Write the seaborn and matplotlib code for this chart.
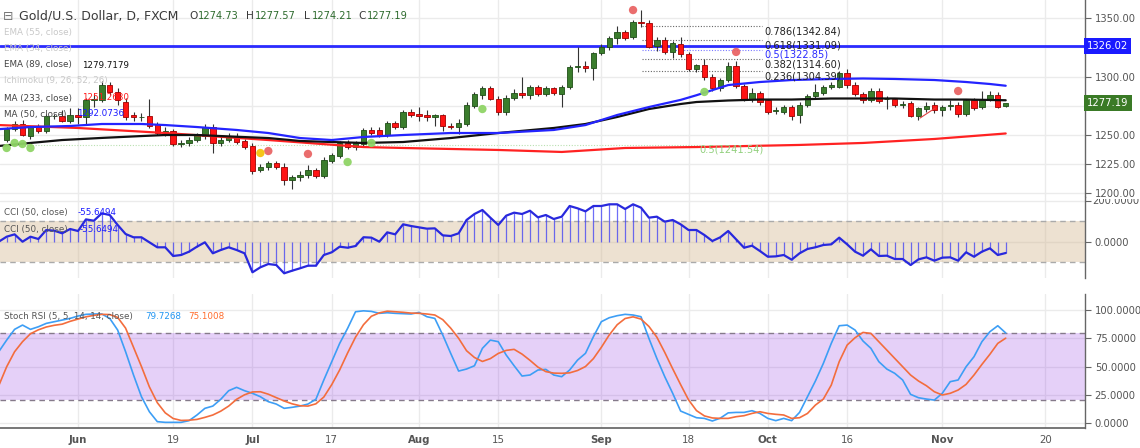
import numpy as np
import pandas as pd
import matplotlib
matplotlib.use("Agg")
import matplotlib.pyplot as plt
import matplotlib.transforms as mtransforms
import seaborn as sns

# ---------------- data (bar index 0 = 1 Jun, trading days) ----------------
first_bar = -9
opens = [1246, 1255, 1259, 1249, 1257, 1253, 1266, 1266, 1262, 1267,
         1265, 1280, 1280, 1293, 1287, 1278, 1267, 1265, 1266, 1259,
         1252, 1253, 1242.5, 1243, 1246, 1249, 1257, 1243, 1246, 1249,
         1245, 1241, 1220, 1223, 1226, 1223, 1211.5, 1214, 1216, 1220,
         1215, 1228, 1232, 1243, 1240, 1242, 1254, 1254, 1250, 1260,
         1257, 1270, 1268, 1267, 1265, 1267, 1258, 1257, 1259, 1275,
         1284, 1290, 1281, 1270, 1282, 1286, 1284, 1291, 1285, 1290,
         1285, 1291, 1308, 1309, 1307, 1320, 1325, 1333, 1338, 1334,
         1347, 1346, 1326, 1331, 1321, 1328, 1319, 1306, 1310, 1300,
         1290, 1297, 1309, 1292, 1281, 1286, 1280, 1270.5, 1270, 1274,
         1267, 1276, 1283, 1286, 1291, 1291, 1303, 1293, 1285, 1280,
         1288, 1280.5, 1281, 1276, 1277, 1266, 1272, 1276, 1271, 1275,
         1276, 1268, 1280, 1274, 1280, 1284, 1274.73]
highs = [1257, 1262, 1263, 1258, 1259, 1268, 1268, 1271, 1273, 1273,
         1282, 1285, 1296, 1295, 1290, 1282, 1270, 1269, 1281, 1261,
         1257, 1255, 1246, 1248, 1252, 1259, 1259, 1249, 1252, 1252,
         1247, 1243, 1225, 1228, 1228, 1226, 1216, 1219, 1224, 1222,
         1231, 1235, 1245, 1246, 1245, 1256, 1257, 1257, 1262, 1262,
         1271, 1272, 1274, 1271, 1268, 1268, 1260, 1264, 1278, 1287,
         1292, 1292, 1283, 1284, 1289, 1300, 1293, 1293, 1292, 1291,
         1293, 1310, 1325, 1313, 1321, 1328, 1335, 1343, 1340, 1348,
         1357, 1348, 1334, 1334, 1330, 1334, 1321, 1311, 1315, 1302,
         1299, 1312, 1313, 1294, 1290, 1288, 1281, 1274, 1276, 1276,
         1278, 1285, 1294, 1293, 1295, 1305, 1306, 1295, 1287, 1290,
         1290, 1283, 1282, 1279, 1279, 1274, 1278, 1278, 1276, 1280,
         1278, 1281, 1282, 1288, 1288, 1287, 1277.57]
lows = [1244, 1253, 1249, 1247, 1252, 1252, 1264, 1261, 1260, 1259,
        1259, 1274, 1278, 1284, 1276, 1263, 1262, 1262, 1256, 1250,
        1249, 1241, 1240, 1241, 1244, 1247, 1235, 1241, 1244, 1242,
        1238, 1217, 1218, 1220, 1221, 1207, 1204, 1211, 1213, 1213,
        1213, 1226, 1230, 1238, 1237, 1240, 1250, 1248, 1248, 1255,
        1255, 1265, 1262, 1262, 1258, 1253, 1255, 1251, 1258, 1273,
        1281, 1280, 1267, 1267, 1280, 1282, 1281, 1283, 1283, 1284,
        1274, 1289, 1304, 1304, 1297, 1318, 1323, 1328, 1331, 1332,
        1342, 1324, 1322, 1319, 1316, 1317, 1305, 1304, 1297, 1288,
        1288, 1295, 1290, 1279, 1278, 1276, 1268, 1268, 1268, 1263,
        1260, 1274, 1281, 1284, 1289, 1290, 1290, 1283, 1277, 1278,
        1277, 1272, 1274, 1273, 1265, 1263, 1270, 1269, 1266, 1271,
        1265, 1266, 1271, 1272, 1279, 1273, 1274.21]
closes = [1255, 1259, 1250, 1257, 1253, 1266, 1266.5, 1262, 1267, 1265,
          1280, 1280.5, 1293, 1287, 1280, 1265, 1265, 1265.5, 1258, 1252,
          1253, 1242, 1243.5, 1246, 1250, 1257, 1243, 1246, 1249, 1244,
          1240, 1219.5, 1223, 1226, 1223, 1211.5, 1214, 1216, 1220, 1215,
          1229, 1233, 1243, 1240, 1243, 1254, 1252, 1250, 1260, 1257,
          1270, 1267, 1266, 1265, 1267, 1258, 1257, 1260, 1275.5, 1285,
          1290, 1281, 1270, 1282, 1286, 1284, 1291, 1285, 1290, 1286,
          1291, 1308, 1308.5, 1307, 1320, 1325, 1333, 1338, 1333, 1347,
          1346, 1325, 1331, 1321, 1329, 1319, 1306, 1310, 1300, 1290,
          1297, 1309, 1292, 1281, 1286, 1278, 1270, 1271, 1274, 1266,
          1276, 1283, 1287, 1291, 1293, 1303, 1293, 1285, 1280, 1288,
          1279, 1281, 1276, 1276.5, 1266, 1273, 1275, 1271, 1274, 1275.5,
          1268, 1280, 1273, 1281, 1284, 1274, 1277.19]

# moving averages at selected bars
ma50_bars = [-10, -6, -1, 3, 8, 11, 15, 20, 24, 28, 32, 36, 41, 47, 53, 60,
             64, 68, 72, 76, 78, 82, 86, 90, 95, 99, 103, 108, 112, 115, 117]
ma50_vals = [1255, 1256.8, 1257.7, 1259.4, 1259.4, 1258.5, 1256.8, 1254.3,
             1251.7, 1247.4, 1245.7, 1248.3, 1250, 1251.7, 1251.7, 1254.3,
             1258.5, 1267.1, 1273.9, 1280, 1284, 1292.7, 1295.3, 1297.0,
             1297.9, 1298.3, 1297.9, 1297, 1295.3, 1293.6, 1292.1]
ema89_bars = [-10, -6, -2, 3, 8, 11, 15, 20, 24, 28, 32, 36, 41, 47, 53, 60,
              64, 68, 72, 76, 78, 82, 86, 90, 95, 99, 103, 108, 112, 117]
ema89_vals = [1240.6, 1243.2, 1245.7, 1247.5, 1249.1, 1250, 1250, 1248.5,
              1247.4, 1244.9, 1244, 1243.2, 1244, 1247.4, 1251.7, 1256,
              1259.4, 1265.4, 1272.2, 1276.5, 1278.2, 1279.5, 1280.3, 1280.3,
              1281.2, 1281.2, 1281.2, 1280.3, 1280.3, 1279.7]
ma233_bars = [-10, 0, 11, 24, 36, 41, 53, 61, 69, 78, 91, 99, 108, 117]
ma233_vals = [1258.5, 1256, 1251.7, 1245.7, 1239.7, 1238.9, 1237.2, 1235.5,
              1238.9, 1239.7, 1241.5, 1243.2, 1246.6, 1251.3]

hline_level = 1326.02
fib_labels = ['0.786(1342.84)', '0.618(1331.09)', '0.5(1322.85)',
              '0.382(1314.60)', '0.236(1304.39)']
fib_levels = [1342.84, 1331.09, 1322.85, 1314.60, 1304.39]
fib_bar_range = [71.1, 86.3]
low_fib_label = '0.5(1241.54)'
low_fib_level = 1241.54

red_dot_bars = [24, 29, 70, 83, 111]
red_dot_vals = [1236.3, 1233.8, 1356.8, 1321.0, 1287.6]
green_dot_bars = [-9, -8, -7, -6, 34, 37, 51, 79]
green_dot_vals = [1238.9, 1243.2, 1242.3, 1238.9, 1226.9, 1243.2, 1272.2, 1286.8]
yellow_dot_bars = [23]
yellow_dot_vals = [1234.6]

# CCI (bar -10 .. 117)
cci_first = -10
cci_vals = [0, 24.6, 36.3, 0, 24.6, 13.3, 57.6, 54.2, 41.4, 62.6,
            52.7, 110, 103.4, 139.9, 131.5, 82.3, 37.9, 21.7, 21.7, -3,
            -27.6, -27.6, -70.4, -65.5, -49.3, -24.6, -3, -57.1, -40.9, -27.6,
            -40.9, -57.1, -150.7, -126.1, -109.9, -114.8, -155.7, -142.9, -131, -118.2,
            -118.2, -65.5, -52.2, -24.6, -29.6, -21.2, 22, 20, 0, 46.1,
            36.3, 85.6, 77.3, 70.7, 64.2, 65.8, 31.3, 28.1, 41.2, 106.9,
            136.5, 156.2, 118.4, 82.3, 128.2, 143, 136.5, 152.7, 120, 131.5,
            111.8, 123.3, 175.9, 164.5, 149.6, 175.9, 175.9, 184.2, 184.2, 161.1,
            184.2, 167.8, 118.4, 123.3, 98.7, 106.9, 85.6, 57.6, 57.6, 32.9,
            3.4, 21.7, 52.7, 11.5, -29.6, -19.7, -45.8, -73.9, -72.3, -65.5,
            -88.5, -57.1, -35.8, -27.6, -16.3, -13, 19.9, -13, -49.1, -68.8,
            -37.6, -70.4, -68.8, -85.2, -85.2, -114.8, -86.9, -77, -93.4, -78.6,
            -77, -93.4, -52.2, -73.9, -49.1, -32.7, -65.5, -55.65]

# Stoch RSI K and D (bar -10 .. 117)
stoch_k = [63.1, 73.4, 82.9, 86.7, 82.9, 85.2, 88.2, 89.7, 91.1, 92.6,
           94.7, 96.2, 96.5, 96.5, 92.6, 82.3, 63.1, 42.5, 23.3, 10,
           1.2, 0.6, 0.6, 0.6, 2.1, 7.1, 13, 15, 21, 28.6,
           31.6, 28.6, 26.3, 23.3, 18.9, 16.8, 13, 13.9, 15, 16.8,
           21, 38.1, 54.3, 70.5, 83.8, 98.5, 99.3, 98.8, 97.1, 97.6,
           97.1, 96.8, 96.5, 97.9, 94.1, 92.6, 77.9, 61.7, 46, 47.8,
           50.7, 66.1, 73.4, 72, 60.2, 50.7, 41.6, 42.5, 46.9, 47.5,
           42.5, 41, 46.9, 55.7, 61.7, 76.4, 89.7, 93.2, 95, 96.2,
           95.6, 94.1, 74.9, 57.2, 41, 26.3, 10.6, 7.7, 4.7, 4.1,
           1.8, 4.3, 9, 9.4, 9.4, 10.9, 8.5, 4.1, 2.1, 4.1,
           2.1, 9.4, 23.3, 37.2, 52.8, 70.5, 86.1, 86.7, 82.3, 72.6,
           66.1, 54.3, 47.8, 44, 38.1, 25.4, 22.4, 21.2, 20.3, 26.3,
           36.6, 38.1, 49.8, 58.7, 72, 80.8, 86.1, 79.73]
stoch_d = [33, 49.8, 63.1, 72, 79, 82.5, 85, 86.5, 87.5, 90,
           92, 94, 95.3, 96.2, 96, 93.5, 84, 67, 50, 32,
           18, 9, 4, 2.3, 2.5, 3.2, 5, 7.1, 10.5, 15,
           21, 25, 27.5, 27.7, 25.5, 22.5, 19.5, 17, 15.3, 15,
           17, 23, 34, 47, 62, 76, 87, 94.5, 97.5, 99,
           98.5, 98, 97.3, 97.1, 96.5, 95.6, 91.5, 84, 75, 64,
           58, 54.5, 57, 61.6, 64.3, 65.2, 61, 55.5, 49.5, 45.5,
           44.2, 44, 44.4, 46.5, 50, 57, 67, 78, 87, 92.5,
           94, 92, 85.5, 76, 62.5, 48, 34, 20.5, 11, 6.3,
           4.5, 4.1, 4.1, 5.6, 6.5, 8.5, 10, 8.5, 7.7, 7.1,
           4.1, 4.7, 8.5, 15.9, 21.2, 33.6, 54.3, 69, 75.5, 80.2,
           79.3, 72, 64.6, 57.2, 49.8, 42.5, 37.2, 33, 27.7, 24.8,
           26.3, 29.2, 34.2, 42.5, 51.9, 60.8, 70.5, 75.1]

tick_positions = [0, 12, 22, 32, 43, 53, 66, 77, 87, 97, 109, 122]
tick_labels = ['Jun', '19', 'Jul', '17', 'Aug', '15', 'Sep', '18', 'Oct', '16', 'Nov', '20']
month_names = ['Jun', 'Jul', 'Aug', 'Sep', 'Oct', 'Nov']

price_ticks = [1200, 1225, 1250, 1275, 1300, 1325, 1350]
price_tick_labels = ['1200.00', '1225.00', '1250.00', '', '1300.00', '', '1350.00']
cci_ticks = [0, 200]
cci_tick_labels = ['0.0000', '200.0000']
stoch_ticks = [0, 25, 50, 75, 100]
stoch_tick_labels = ['0.0000', '25.0000', '50.0000', '75.0000', '100.0000']

# ---------------- figure ----------------
W, H = 1140, 448
sns.set_theme(style='white')
plt.rcParams['font.family'] = ['DejaVu Sans']

fig = plt.figure(figsize=(W / 100, H / 100), dpi=100)
RIGHT = 1085


def px_rect(top, bottom):
    return [0, 1 - bottom / H, RIGHT / W, (bottom - top) / H]


ax_p = fig.add_axes(px_rect(0, 197))
ax_c = fig.add_axes(px_rect(197, 278))
ax_s = fig.add_axes(px_rect(294, 428))

XLIM = (-9.84, 127.0)
grid_c = '#ebebeb'
axis_c = '#666666'
label_c = '#555555'

for ax in (ax_p, ax_c, ax_s):
    ax.set_xlim(*XLIM)
    ax.set_facecolor('white')
    ax.set_axisbelow(True)
    ax.set_xticks(tick_positions)
    ax.grid(True, color=grid_c, lw=1.0)
    for s in ('top', 'left', 'bottom'):
        ax.spines[s].set_visible(False)
    ax.spines['right'].set_color(axis_c)
    ax.spines['right'].set_linewidth(1.0)
    ax.yaxis.tick_right()
    ax.tick_params(axis='y', labelsize=7.2, colors=axis_c, labelcolor=label_c,
                   length=4, width=0.8, pad=3, right=True, left=False)
    ax.tick_params(axis='x', length=0, labelbottom=False)

# ---------------- price panel ----------------
bars = pd.DataFrame({
    'bar': np.arange(first_bar, first_bar + len(opens)),
    'open': opens, 'high': highs, 'low': lows, 'close': closes})
bars['up'] = bars['close'] >= bars['open']
bars['body_lo'] = bars[['open', 'close']].min(axis=1)
bars['body_h'] = (bars['close'] - bars['open']).abs().clip(lower=0.6)

ax_p.set_ylim(1197.0, 1365.4)
ax_p.set_yticks(price_ticks)
ax_p.set_yticklabels(price_tick_labels)

ax_p.axhline(hline_level, color='#2b2bff', lw=2.0, zorder=2)

# faint lower fib level
ax_p.hlines(low_fib_level, -10, 78.4, colors='#b9e0b0', lw=0.8,
            linestyles=(0, (1, 1.5)), zorder=1.5)
ax_p.text(78.4, low_fib_level, low_fib_label, color='#93d07f', fontsize=7.1,
          ha='left', va='top', zorder=6)

ax_p.vlines(bars['bar'], bars['low'], bars['high'], color='#333333', lw=0.8, zorder=3)
upb = bars[bars['up']]
dnb = bars[~bars['up']]
ax_p.bar(upb['bar'], upb['body_h'], bottom=upb['body_lo'], width=0.68,
         color='#3b7d2d', edgecolor='#1f4f17', linewidth=0.6, zorder=4)
ax_p.bar(dnb['bar'], dnb['body_h'], bottom=dnb['body_lo'], width=0.68,
         color='#ff1414', edgecolor='#a00000', linewidth=0.6, zorder=4)

sns.lineplot(x=ma233_bars, y=ma233_vals, ax=ax_p, color='#ff2222', lw=1.6,
             sort=False, estimator=None, zorder=5)
sns.lineplot(x=ema89_bars, y=ema89_vals, ax=ax_p, color='#111111', lw=1.6,
             sort=False, estimator=None, zorder=5)
sns.lineplot(x=ma50_bars, y=ma50_vals, ax=ax_p, color='#2424ff', lw=1.6,
             sort=False, estimator=None, zorder=5)

# fib retracement levels
for lab, lev in zip(fib_labels, fib_levels):
    is_half = lab.startswith('0.5(')
    ax_p.hlines(lev, fib_bar_range[0], fib_bar_range[1],
                colors='#7a7aff' if is_half else '#666666', lw=0.8,
                linestyles=(0, (1, 1.5)), zorder=2.5)
    ax_p.text(fib_bar_range[1] + 0.2, lev, lab,
              color='#2b2bff' if is_half else '#222222', fontsize=7.1,
              ha='left', va='top', zorder=6)

# little drawing stroke
ax_p.plot([106.2, 108.1], [1264.5, 1273.0], color='#e04040', lw=0.8, zorder=5)

ax_p.scatter(red_dot_bars, red_dot_vals, s=36, color='#e85d5d', alpha=0.9,
             edgecolors='none', zorder=7)
ax_p.scatter(green_dot_bars, green_dot_vals, s=36, color='#8fd466', alpha=0.95,
             edgecolors='none', zorder=7)
ax_p.scatter(yellow_dot_bars, yellow_dot_vals, s=36, color='#f5c518',
             edgecolors='none', zorder=7)

blend_p = mtransforms.blended_transform_factory(ax_p.transAxes, ax_p.transData)
ax_p.text(1.002, hline_level, '1326.02', transform=blend_p, color='white',
          fontsize=7.2, ha='left', va='center', clip_on=False, zorder=10,
          bbox=dict(boxstyle='square,pad=0.3', fc='#1a1aff', ec='none'))
ax_p.text(1.002, closes[-1], '1277.19', transform=blend_p, color='white',
          fontsize=7.2, ha='left', va='center', clip_on=False, zorder=10,
          bbox=dict(boxstyle='square,pad=0.3', fc='#3a7a26', ec='none'))

# ---------------- CCI panel ----------------
cci_bars = np.arange(cci_first, cci_first + len(cci_vals))
ax_c.set_ylim(-178.8, 220.2)
ax_c.set_yticks(cci_ticks)
ax_c.set_yticklabels([cci_tick_labels[0], ''])
ax_c.axhspan(-100, 100, color='#d2b48c', alpha=0.4, lw=0, zorder=0.8)
for lv in (100, -100):
    ax_c.axhline(lv, color='#aaaaaa', lw=1.0, ls=(0, (4, 3)), zorder=1)
ax_c.vlines(cci_bars, 0, cci_vals, color='#3d3df5', lw=0.9, alpha=0.75, zorder=2)
sns.lineplot(x=cci_bars, y=cci_vals, ax=ax_c, color='#2828dd', lw=1.6,
             sort=False, estimator=None, zorder=3)
# top CCI label is cut by the pane edge, as in the original
blend_c = mtransforms.blended_transform_factory(ax_c.transAxes, ax_c.transData)
t200 = ax_c.text((RIGHT + 7) / RIGHT, 200, cci_tick_labels[1], transform=blend_c,
                 fontsize=7.2, color=label_c, ha='left', va='center', zorder=1)
clip_bb = mtransforms.TransformedBbox(
    mtransforms.Bbox.from_extents(RIGHT / W, 1 - 278 / H, 1.0, 1 - 198.5 / H),
    fig.transFigure)
t200.set_clip_on(True)
t200.set_clip_box(clip_bb)

# ---------------- Stoch RSI panel ----------------
st_bars = np.arange(cci_first, cci_first + len(stoch_k))
ax_s.set_ylim(-4.4, 114.2)
ax_s.set_yticks(stoch_ticks)
ax_s.set_yticklabels(stoch_tick_labels)
ax_s.axhspan(20, 80, color='#8a2be2', alpha=0.22, lw=0, zorder=0.8)
for lv in (80, 20):
    ax_s.axhline(lv, color='#857a8a', lw=1.0, ls=(0, (4, 3)), zorder=1)
sns.lineplot(x=st_bars, y=stoch_k, ax=ax_s, color='#3d9ef5', lw=1.2,
             sort=False, estimator=None, zorder=3)
sns.lineplot(x=st_bars, y=stoch_d, ax=ax_s, color='#f36d3d', lw=1.2,
             sort=False, estimator=None, zorder=3)
ax_s.spines['bottom'].set_visible(True)
ax_s.spines['bottom'].set_color(axis_c)
ax_s.tick_params(axis='x', length=3, color=axis_c, labelbottom=True,
                 labelsize=7.4, labelcolor=label_c, pad=2)
ax_s.set_xticklabels(tick_labels)
for tl in ax_s.get_xticklabels():
    if tl.get_text() in month_names:
        tl.set_fontweight('bold')

for ax in (ax_p, ax_c, ax_s):
    ax.set_xlabel('')
    ax.set_ylabel('')


# ---------------- legend texts ----------------
def ftext(x, y, s, **kw):
    fig.text(x / W, 1 - y / H, s, ha='left', va='center', **kw)


ftext(3, 16, '\u229f', fontsize=9, color='#777777')
ftext(19, 16, 'Gold/U.S. Dollar, D, FXCM', fontsize=9, color='#3a3a3a')
ohlc = [('O', 189, '1274.73', 198), ('H', 246, '1277.57', 255),
        ('L', 304, '1274.21', 312), ('C', 358, '1277.19', 367)]
for letter, lx, val, vx in ohlc:
    ftext(lx, 16, letter, fontsize=7.6, color='#3a3a3a')
    ftext(vx, 16, val, fontsize=7.1, color='#2d6a2d')

leg_fs = 6.3
ftext(4, 33, 'EMA (55, close)', fontsize=leg_fs, color='#c8c8c8')
ftext(4, 49, 'EMA (34, close)', fontsize=leg_fs, color='#c8c8c8')
ftext(4, 65, 'EMA (89, close)', fontsize=leg_fs, color='#444444')
ftext(82, 65, '1279.7179', fontsize=leg_fs, color='#111111')
ftext(4, 81, 'Ichimoku (9, 26, 52, 26)', fontsize=leg_fs, color='#c8c8c8')
ftext(4, 98, 'MA (233, close)', fontsize=leg_fs, color='#444444')
ftext(82, 98, '1251.2680', fontsize=leg_fs, color='#ff1a1a')
ftext(4, 114, 'MA (50, close)', fontsize=leg_fs, color='#444444')
ftext(77, 114, '1292.0736', fontsize=leg_fs, color='#1a1aff')

ftext(4, 212, 'CCI (50, close)', fontsize=leg_fs, color='#555555')
ftext(78, 212, '-55.6494', fontsize=leg_fs, color='#1a1aff')
ftext(4, 229, 'CCI (50, close)', fontsize=leg_fs, color='#555555')
ftext(80, 229, '-55.6494', fontsize=leg_fs, color='#1a1aff')

ftext(4, 316, 'Stoch RSI (5, 5, 14, 14, close)', fontsize=leg_fs, color='#555555')
ftext(145, 316, '79.7268', fontsize=leg_fs, color='#2196f3')
ftext(188, 316, '75.1008', fontsize=leg_fs, color='#ff6d2d')

fig.savefig('out.png', dpi=100)
